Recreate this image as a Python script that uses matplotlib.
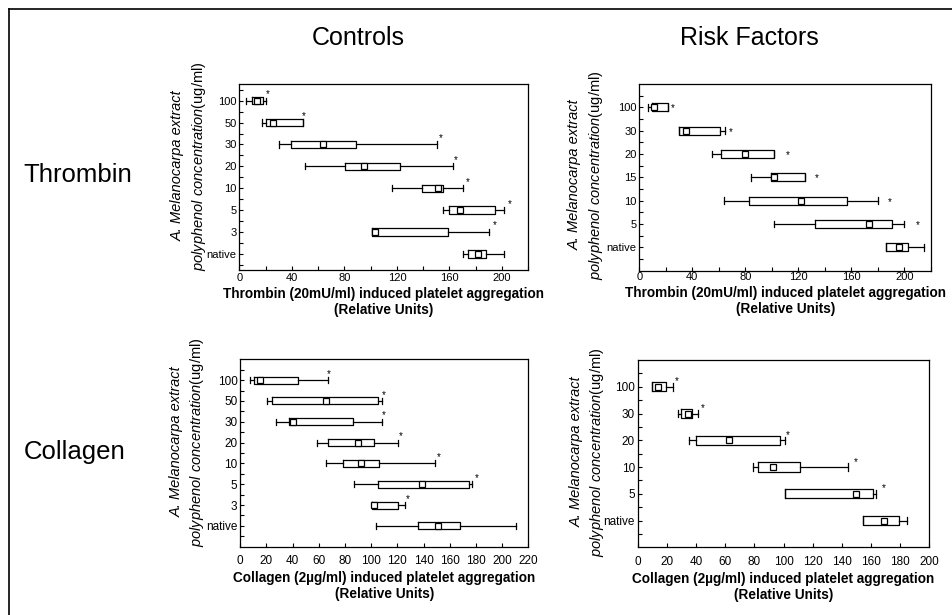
import numpy as np
import matplotlib
matplotlib.use("Agg")
import matplotlib.pyplot as plt
from matplotlib.lines import Line2D

plt.rcParams["font.family"] = ["Liberation Sans", "DejaVu Sans"]
plt.rcParams["mathtext.fontset"] = "custom"
plt.rcParams["mathtext.it"] = "Liberation Sans:italic"
plt.rcParams["mathtext.rm"] = "Liberation Sans"

# ── Controls / Thrombin ───────────────────────────────
ct_cats   = ["100", "50", "30", "20", "10", "5", "3", "native"]
ct_lo     = [5, 17, 30.5, 50.3, 116.6, 155, 101, 170]
ct_q1     = [9.7, 20.3, 39.4, 80.6, 139.3, 159.8, 101, 173.8]
ct_med    = [13.7, 25.4, 64, 95.3, 151, 167.7, 103, 181.4]
ct_q3     = [17.8, 48.3, 89, 122.5, 155, 194.4, 159, 187.8]
ct_hi     = [20, 48.3, 150.4, 162.6, 170, 201.3, 190, 201.3]
ct_star   = [21.3, 49.3, 153.5, 164.7, 173.8, 205.8, 194.2, None]

# ── Risk factors / Thrombin ───────────────────────────
rt_cats   = ["100", "30", "20", "15", "10", "5", "native"]
rt_lo     = [6.3, 29.9, 54.5, 84.6, 63.7, 101.6, 185.8]
rt_q1     = [9.5, 29.9, 61.7, 99.6, 82.8, 132.8, 185.8]
rt_med    = [11.3, 34.9, 80, 101.6, 121.7, 173.2, 195.8]
rt_q3     = [21.3, 61.2, 101.6, 125, 157, 190.5, 202.6]
rt_hi     = [21.3, 65, 101.6, 125, 180, 199.5, 214.6]
rt_star   = [25.1, 69, 111.7, 134.2, 188.7, 210, None]

# ── Controls / Collagen ───────────────────────────────
cc_cats   = ["100", "50", "30", "20", "10", "5", "3", "native"]
cc_lo     = [7.4, 20.6, 27.2, 58.3, 65.4, 86.8, 100.3, 103.6]
cc_q1     = [10.7, 24.4, 36.9, 67.2, 78.2, 104.9, 100.3, 135.5]
cc_med    = [15, 65.4, 40, 89.9, 92.4, 138.5, 102.4, 151.3]
cc_q3     = [43.8, 105.4, 86.3, 101.9, 106.2, 175, 120.4, 168]
cc_hi     = [67.2, 108.5, 108, 120.4, 148.7, 176.7, 125.5, 210.6]
cc_star   = [67.2, 109.8, 109.8, 122.5, 151.8, 181, 127.8, None]

# ── Risk factors / Collagen ───────────────────────────
rc_cats   = ["100", "30", "20", "10", "5", "native"]
rc_lo     = [9.6, 27.9, 35, 78.9, 101, 154.7]
rc_q1     = [9.6, 29.7, 39.8, 82.3, 101, 154.7]
rc_med    = [14.2, 34.3, 62.9, 93, 149.5, 168.9]
rc_q3     = [19.4, 37.5, 97.6, 111.3, 161.1, 179.4]
rc_hi     = [24.5, 41.1, 101, 144.5, 163.4, 184.9]
rc_star   = [26.7, 44.6, 102.9, 149.3, 169.1, None]

thr_label = "Thrombin (20mU/ml) induced platelet aggregation\n(Relative Units)"
col_label = "Collagen (2µg/ml) induced platelet aggregation\n(Relative Units)"

W, H = 952, 615
fig = plt.figure(figsize=(W / 100, H / 100), dpi=100)


def px_axes(left, right, top, bottom):
    return fig.add_axes([left / W, 1 - bottom / H, (right - left) / W, (bottom - top) / H])


def panel(ax, cats, lo, q1, med, q3, hi, star, xmax, major, minor, ypad,
          xlabel, star_dy, tick_fs, xpad):
    n = len(cats)
    pos = np.arange(n)
    stats = []
    for i in range(n):
        stats.append(dict(whislo=lo[i], q1=q1[i], med=med[i], q3=q3[i],
                          whishi=hi[i], mean=med[i]))
    ax.bxp(stats, positions=pos, widths=0.34, capwidths=0.28,
           orientation="horizontal", showmeans=True, showfliers=False,
           boxprops=dict(color="black", linewidth=0.9),
           whiskerprops=dict(color="black", linewidth=0.9),
           capprops=dict(color="black", linewidth=0.9),
           medianprops=dict(linewidth=0),
           meanprops=dict(marker="s", markerfacecolor="white",
                          markeredgecolor="black", markersize=5,
                          markeredgewidth=0.9))
    for i, s in enumerate(star):
        if s is not None:
            ax.text(s, pos[i] + star_dy, "*", ha="center", va="center", fontsize=7)
    ax.set_xlim(0, xmax)
    ax.set_ylim(ypad[1], ypad[0])
    ax.set_yticks(pos)
    ax.set_yticklabels(cats)
    ax.set_yticks(np.arange(-0.5, n, 1.0), minor=True)
    ax.set_xticks(np.arange(0, xmax + 0.1, major))
    if minor:
        ax.set_xticks(np.arange(0, xmax + 0.1, minor), minor=True)
    ax.tick_params(which="both", direction="in", length=3, width=0.8,
                   labelsize=tick_fs)
    ax.tick_params(axis="x", pad=xpad)
    ax.tick_params(axis="y", pad=2)
    ax.set_xlabel(xlabel, fontsize=9.8, fontweight="bold", labelpad=3)
    for sp in ax.spines.values():
        sp.set_linewidth(0.9)


ax1 = px_axes(239.3, 528.3, 84, 270)
panel(ax1, ct_cats, ct_lo, ct_q1, ct_med, ct_q3, ct_hi, ct_star, 220, 40, 20,
      (-0.76, 7.73), thr_label, -0.3, 8, 2)

ax2 = px_axes(639.3, 931, 84, 270.7)
panel(ax2, rt_cats, rt_lo, rt_q1, rt_med, rt_q3, rt_hi, rt_star, 220, 40, 20,
      (-1, 7), thr_label, 0.05, 8, 1)

ax3 = px_axes(240.3, 528.3, 359.3, 546.7)
panel(ax3, cc_cats, cc_lo, cc_q1, cc_med, cc_q3, cc_hi, cc_star, 220, 20, None,
      (-1, 8), col_label, -0.3, 8.5, 6)

ax4 = px_axes(637.7, 929.3, 360, 547.3)
panel(ax4, rc_cats, rc_lo, rc_q1, rc_med, rc_q3, rc_hi, rc_star, 200, 20, None,
      (-1, 6), col_label, -0.2, 8.5, 6)

# ── y labels (two lines each) ─────────────────────────
ylab1 = "A. Melanocarpa extract"
ylab2 = r"$\mathit{polyphenol\ concentration}$(ug/ml)"
for x1, x2, yc in [(178, 199, 166), (575, 596, 175), (177, 197, 442), (577, 597, 452)]:
    fig.text(x1 / W, 1 - yc / H, ylab1, rotation=90, ha="center", va="center",
             fontsize=10.5, style="italic")
    fig.text(x2 / W, 1 - yc / H, ylab2, rotation=90, ha="center", va="center",
             fontsize=10.5)

# ── titles ────────────────────────────────────────────
fig.text(358 / W, 1 - 38 / H, "Controls", ha="center", va="center", fontsize=18)
fig.text(749 / W, 1 - 38 / H, "Risk Factors", ha="center", va="center", fontsize=18)
fig.text(78 / W, 1 - 175 / H, "Thrombin", ha="center", va="center", fontsize=18.5)
fig.text(75 / W, 1 - 452 / H, "Collagen", ha="center", va="center", fontsize=18.5)

# ── outer frame (left and top edges) ──────────────────
fig.add_artist(Line2D([8.5 / W, 8.5 / W], [0, 1 - 9 / H], color="black", linewidth=1.2))
fig.add_artist(Line2D([8.5 / W, 1], [1 - 9 / H, 1 - 9 / H], color="black", linewidth=1.2))

fig.savefig("out.png", dpi=100)
